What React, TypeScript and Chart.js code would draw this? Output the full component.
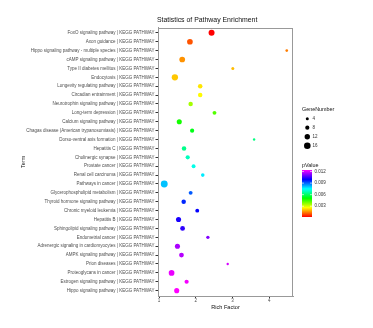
import React, { useEffect, useRef } from "react";
import { Chart, registerables } from "chart.js";

Chart.register(...registerables);

const terms = [
  "FoxO signaling pathway | KEGG PATHWAY",
  "Axon guidance | KEGG PATHWAY",
  "Hippo signaling pathway - multiple species | KEGG PATHWAY",
  "cAMP signaling pathway | KEGG PATHWAY",
  "Type II diabetes mellitus | KEGG PATHWAY",
  "Endocytosis | KEGG PATHWAY",
  "Longevity regulating pathway | KEGG PATHWAY",
  "Circadian entrainment | KEGG PATHWAY",
  "Neurotrophin signaling pathway | KEGG PATHWAY",
  "Long-term depression | KEGG PATHWAY",
  "Calcium signaling pathway | KEGG PATHWAY",
  "Chagas disease (American trypanosomiasis) | KEGG PATHWAY",
  "Dorso-ventral axis formation | KEGG PATHWAY",
  "Hepatitis C | KEGG PATHWAY",
  "Cholinergic synapse | KEGG PATHWAY",
  "Prostate cancer | KEGG PATHWAY",
  "Renal cell carcinoma | KEGG PATHWAY",
  "Pathways in cancer | KEGG PATHWAY",
  "Glycerophospholipid metabolism | KEGG PATHWAY",
  "Thyroid hormone signaling pathway | KEGG PATHWAY",
  "Chronic myeloid leukemia | KEGG PATHWAY",
  "Hepatitis B | KEGG PATHWAY",
  "Sphingolipid signaling pathway | KEGG PATHWAY",
  "Endometrial cancer | KEGG PATHWAY",
  "Adrenergic signaling in cardiomyocytes | KEGG PATHWAY",
  "AMPK signaling pathway | KEGG PATHWAY",
  "Prion diseases | KEGG PATHWAY",
  "Proteoglycans in cancer | KEGG PATHWAY",
  "Estrogen signaling pathway | KEGG PATHWAY",
  "Hippo signaling pathway | KEGG PATHWAY",
];

const richFactor = [
  2.43, 1.84, 4.48, 1.63, 3.01, 1.43, 2.12, 2.12, 1.86, 2.51,
  1.55, 1.9, 3.59, 1.68, 1.78, 1.94, 2.19, 1.14, 1.86, 1.67,
  2.04, 1.53, 1.64, 2.33, 1.5, 1.61, 2.87, 1.34, 1.75, 1.48,
];

const geneNumber = [
  14, 13, 3, 13, 4, 15, 9, 9, 9, 7,
  11, 8, 2, 9, 8, 7, 6, 17, 7, 9,
  7, 11, 10, 5, 11, 10, 2, 13, 8, 11,
];

const pValue = [
  0.0002, 0.001, 0.0014, 0.0016, 0.002, 0.0021, 0.0024, 0.0026, 0.0035, 0.0043,
  0.0049, 0.0053, 0.0063, 0.0064, 0.0069, 0.0073, 0.0077, 0.0081, 0.0091, 0.0096,
  0.01, 0.0102, 0.0104, 0.0112, 0.0116, 0.0117, 0.012, 0.0122, 0.0123, 0.0124,
];

const xTicks = [1, 2, 3, 4];
const sizeLegend = [4, 8, 12, 16];
const pTicks = [0.012, 0.009, 0.006, 0.003];

const P_MIN = 0.0002;
const P_MAX = 0.0124;
const FONT = "'Liberation Sans', Arial, sans-serif";

const hueOf = (p: number) => (300 * (p - P_MIN)) / (P_MAX - P_MIN);
const colorOf = (p: number) => `hsl(${hueOf(p)}, 100%, 50%)`;
const radiusOf = (g: number) => 0.9 + 0.15 * g;

const extras = {
  id: "extras",
  afterDraw(chart: any) {
    const ctx = chart.ctx as CanvasRenderingContext2D;
    const a = chart.chartArea;
    ctx.save();
    ctx.strokeStyle = "#999";
    ctx.lineWidth = 1;
    ctx.strokeRect(Math.round(a.left) + 0.5, Math.round(a.top) + 0.5, Math.round(a.right - a.left) - 1, Math.round(a.bottom - a.top) - 1);

    ctx.fillStyle = "#111";
    ctx.textBaseline = "middle";
    ctx.textAlign = "left";
    ctx.font = `6.9px ${FONT}`;
    ctx.fillText("Statistics of Pathway Enrichment", a.left - 1, 20);

    ctx.font = `5.6px ${FONT}`;
    ctx.textAlign = "center";
    ctx.fillText("Rich Factor", (a.left + a.right) / 2, 307.5);
    ctx.save();
    ctx.translate(23, (a.top + a.bottom) / 2);
    ctx.rotate(-Math.PI / 2);
    ctx.fillText("Term", 0, 0);
    ctx.restore();

    ctx.textAlign = "left";
    ctx.font = `5.4px ${FONT}`;
    ctx.fillText("GeneNumber", 302, 110);
    ctx.font = `4.5px ${FONT}`;
    sizeLegend.forEach((g, i) => {
      const y = 118.7 + i * 9;
      ctx.fillStyle = "#000";
      ctx.beginPath();
      ctx.arc(307.3, y, radiusOf(g), 0, Math.PI * 2);
      ctx.fill();
      ctx.fillStyle = "#333";
      ctx.fillText(String(g), 312.5, y);
    });

    ctx.fillStyle = "#111";
    ctx.font = `5.4px ${FONT}`;
    ctx.fillText("pValue", 302, 165.5);
    const top = 170;
    const bottom = 217;
    const grad = ctx.createLinearGradient(0, bottom, 0, top);
    for (let i = 0; i <= 10; i++) {
      grad.addColorStop(i / 10, `hsl(${30 * i}, 100%, 50%)`);
    }
    ctx.fillStyle = grad;
    ctx.fillRect(302, top, 10, bottom - top);
    ctx.font = `4.5px ${FONT}`;
    pTicks.forEach((p) => {
      const y = bottom - ((p - P_MIN) / (P_MAX - P_MIN)) * (bottom - top);
      ctx.strokeStyle = "#fff";
      ctx.lineWidth = 0.6;
      ctx.beginPath();
      ctx.moveTo(302, y);
      ctx.lineTo(304, y);
      ctx.moveTo(310, y);
      ctx.lineTo(312, y);
      ctx.stroke();
      ctx.fillStyle = "#333";
      ctx.fillText(p.toFixed(3), 314.5, y);
    });
    ctx.restore();
  },
};

export default function App() {
  const ref = useRef<HTMLCanvasElement>(null);

  useEffect(() => {
    if (!ref.current) return;
    const data = richFactor.map((x, i) => ({ x, y: i }));
    const chart = new Chart(ref.current, {
      type: "scatter",
      data: {
        datasets: [
          {
            data,
            pointRadius: geneNumber.map(radiusOf),
            pointHoverRadius: geneNumber.map(radiusOf),
            pointBackgroundColor: pValue.map(colorOf),
            pointBorderWidth: 0,
            borderWidth: 0,
          } as any,
        ],
      },
      options: {
        animation: false,
        responsive: false,
        devicePixelRatio: 1,
        layout: { padding: { left: 0, top: 27.5, right: 80, bottom: 0 } },
        plugins: { legend: { display: false }, tooltip: { enabled: false }, title: { display: false } },
        scales: {
          x: {
            type: "linear",
            min: 0.97,
            max: 4.65,
            afterBuildTicks: (s: any) => {
              s.ticks = xTicks.map((v) => ({ value: v }));
            },
            afterFit: (s: any) => {
              s.height = 32;
            },
            grid: { drawOnChartArea: false, drawTicks: true, tickLength: 2, color: "#333" },
            border: { display: true, color: "#999" },
            ticks: {
              font: { size: 4.5, family: FONT },
              color: "#4d4d4d",
              padding: 0.5,
              maxRotation: 0,
              minRotation: 0,
              callback: (v: any) => String(v),
            },
          },
          y: {
            type: "linear",
            reverse: true,
            min: -0.6,
            max: 29.6,
            afterBuildTicks: (s: any) => {
              s.ticks = terms.map((_, i) => ({ value: i }));
            },
            afterFit: (s: any) => {
              s.width = 158;
            },
            grid: { drawOnChartArea: false, drawTicks: true, tickLength: 2.5, color: "#333" },
            border: { display: true, color: "#999" },
            ticks: {
              autoSkip: false,
              font: { size: 4.5, family: FONT },
              color: "#4d4d4d",
              padding: 1,
              callback: (v: any) => terms[v as number] ?? "",
            },
          },
        },
      },
      plugins: [extras],
    });
    return () => chart.destroy();
  }, []);

  return (
    <div style={{ position: "fixed", left: 0, top: 0, width: 373, height: 328, background: "#fff" }}>
      <canvas ref={ref} width={373} height={328} style={{ width: 373, height: 328, display: "block" }} />
    </div>
  );
}
